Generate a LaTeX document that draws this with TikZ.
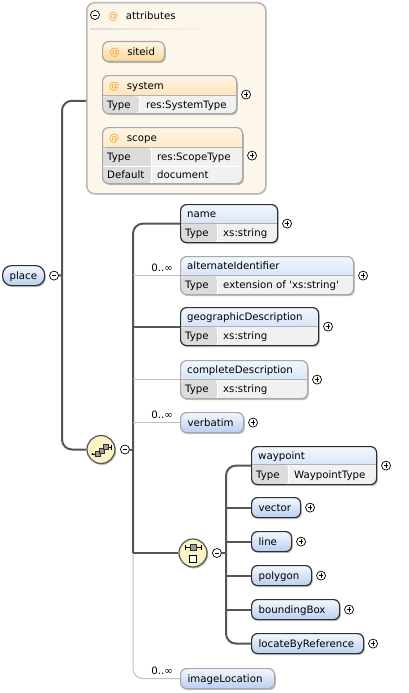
\documentclass[tikz,border=0pt]{standalone}
\usepackage{fontspec}
\setmainfont{DejaVu Sans}
\usetikzlibrary{positioning,shadows}
\definecolor{hdtop}{HTML}{F3F8FF}
\definecolor{hdbot}{HTML}{BACFF0}
\definecolor{attop}{HTML}{FFF5E4}
\definecolor{atbot}{HTML}{FCD697}
\definecolor{atsym}{HTML}{F0A030}
\definecolor{cellA}{HTML}{DCDCDC}
\definecolor{cellB}{HTML}{F1F1F1}
\definecolor{reqline}{HTML}{303030}
\definecolor{optline}{HTML}{A8A8A8}
\definecolor{grpfill}{HTML}{FCF6EB}
\definecolor{grpline}{HTML}{BAB7B2}
\definecolor{grpsep}{HTML}{E2DCD2}
\definecolor{connline}{HTML}{555555}
\definecolor{optconn}{HTML}{C0C0C0}
\definecolor{compfill}{HTML}{FBF5C6}
\definecolor{iconfill}{HTML}{9A9A9A}
\tikzset{box/.style={anchor=north west, line width=1.2pt, rounded corners=6pt, inner xsep=7pt, inner ysep=0pt,
    minimum height=20pt, text height=9.5pt, text depth=1.5pt, align=left,
    drop shadow={shadow xshift=1.2pt, shadow yshift=-1.5pt, opacity=0.25, fill=black}}}
\tikzset{elem/.style={box, draw=reqline, top color=hdtop, bottom color=hdbot}}
\tikzset{optelem/.style={elem, draw=optline}}
\tikzset{attrib/.style={box, draw=optline, top color=attop, bottom color=atbot}}
\tikzset{typed/.style n args={4}{box, fill=cellB, path picture={
    \shade[top color=#3, bottom color=#4] (path picture bounding box.north west) rectangle ([yshift=-#1]path picture bounding box.north east);
    \fill[cellA] ([yshift=-#1]path picture bounding box.north west) rectangle ([xshift=#2]path picture bounding box.south west);
    \draw[cellA!80!black, line width=0.6pt] ([yshift=-#1]path picture bounding box.north west) -- ([yshift=-#1]path picture bounding box.north east);
    \draw[white, line width=1pt] ([xshift=#2,yshift=-#1]path picture bounding box.north west) -- ([xshift=#2]path picture bounding box.south west);}}}
\tikzset{grp/.style={anchor=north west, draw=grpline, fill=grpfill, line width=1.5pt, rounded corners=8pt,
    drop shadow={shadow xshift=1pt, shadow yshift=-1pt, opacity=0.15, fill=black}}}
\tikzset{txt/.style={anchor=base west, inner sep=0pt}}
\tikzset{occ/.style={anchor=base east, inner sep=0pt}}
\tikzset{btn/.style={circle, draw=black, line width=0.7pt, fill=white, minimum size=9pt, inner sep=0pt}}
\tikzset{minusbtn/.style={btn, path picture={\draw[line width=0.7pt] ([xshift=-2.4pt]path picture bounding box.center) -- ([xshift=2.4pt]path picture bounding box.center);}}}
\tikzset{plusbtn/.style={btn, path picture={\draw[line width=0.7pt] ([xshift=-2.4pt]path picture bounding box.center) -- ([xshift=2.4pt]path picture bounding box.center) ([yshift=-2.4pt]path picture bounding box.center) -- ([yshift=2.4pt]path picture bounding box.center);}}}
\tikzset{comp/.style={circle, draw=connline, line width=1.2pt, fill=compfill, minimum size=28pt, inner sep=0pt,
    drop shadow={shadow xshift=1.2pt, shadow yshift=-1.5pt, opacity=0.25, fill=black}}}
\tikzset{icsq/.style={draw=reqline, fill=iconfill, line width=0.6pt}}
\tikzset{conn/.style={draw=connline, line width=2pt}}
\tikzset{optc/.style={draw=optconn, line width=1pt}}
\begin{document}
\begin{tikzpicture}[x=1pt, y=-1pt, font=\fontsize{10.2}{12}\selectfont]
\useasboundingbox (0,0) rectangle (408,693);

% attributes group
\node[grp, minimum width=179pt, minimum height=191pt] (attrs) at (86,2) {};
\node[minusbtn] (attM) at (95,15) {};
\node[txt] (attT) at (108,19.5) {\textcolor{atsym}{@}\hspace{7.5pt}attributes};
\shade[left color=grpsep, right color=grpfill] (90,28.5) rectangle (220,29.5);
\node[attrib, text width=48pt] (siteid) at (102,41) {\textcolor{atsym}{@}\hspace{7.5pt}siteid};
\node[typed={20pt}{37pt}{attop}{atbot}, draw=optline, minimum width=134pt, minimum height=38pt] (system) at (102,75) {};
\node[txt] (systemH) at ([xshift=7pt,yshift=-14pt]system.north west) {\textcolor{atsym}{@}\hspace{7.5pt}system};
\node[txt] (systemK) at ([xshift=5pt,yshift=-33pt]system.north west) {Type};
\node[txt] (systemV) at ([xshift=44pt,yshift=-33pt]system.north west) {res:SystemType};
\node[plusbtn, right=4pt of system] (systemP) {};
\node[typed={20pt}{49pt}{attop}{atbot}, draw=optline, minimum width=140pt, minimum height=56pt] (scope) at (102,127) {};
\draw[white, line width=1pt, shorten <=1pt, shorten >=1pt] ([yshift=18pt]scope.south west) -- ([yshift=18pt]scope.south east);
\node[txt] (scopeH) at ([xshift=7pt,yshift=-14pt]scope.north west) {\textcolor{atsym}{@}\hspace{7.5pt}scope};
\node[txt] (scopeK) at ([xshift=5pt,yshift=-33pt]scope.north west) {Type};
\node[txt] (scopeV) at ([xshift=55pt,yshift=-33pt]scope.north west) {res:ScopeType};
\node[txt] (scopeK2) at ([xshift=5pt,yshift=-51pt]scope.north west) {Default};
\node[txt] (scopeV2) at ([xshift=55pt,yshift=-51pt]scope.north west) {document};
\node[plusbtn, right=4pt of scope] (scopeP) {};

% root
\node[elem, rounded corners=9pt, text width=28pt] (place) at (2,265) {place};
\node[minusbtn, right=4pt of place] (placeM) {};
\coordinate (placeJ) at (62,275);

% sequence
\node[comp] (seq) at (101,449.5) {};
\node[minusbtn, right=4.5pt of seq] (seqM) {};
\coordinate (seqJ) at (133,449.5);
\begin{scope}[shift={(seq.center)}]
  \draw[line width=0.8pt] (-8.5,4.5) -- (-4,4.5) (7,-2.5) -- (10,-2.5) (10,-5) -- (10,0);
  \fill (-8.5,4.5) circle (1.1);
  \draw[icsq] (-5.5,1.5) rectangle (-0.5,6.5);
  \draw[icsq] (-2,-1.5) rectangle (3,3.5);
  \draw[icsq] (2,-5) rectangle (7,0);
\end{scope}

\node[typed={19pt}{37pt}{hdtop}{hdbot}, draw=reqline, minimum width=97pt, minimum height=38pt] (elName) at (180,204) {};
\node[txt] (elNameH) at ([xshift=7pt,yshift=-13.5pt]elName.north west) {name};
\node[txt] (elNameK) at ([xshift=5pt,yshift=-32.5pt]elName.north west) {Type};
\node[txt] (elNameV) at ([xshift=43pt,yshift=-32.5pt]elName.north west) {xs:string};
\node[plusbtn, right=4pt of elName] (elNameP) {};

\node[typed={19pt}{37pt}{hdtop}{hdbot}, draw=optline, minimum width=173pt, minimum height=38pt] (elAlt) at (180,256) {};
\node[txt] (elAltH) at ([xshift=7pt,yshift=-13.5pt]elAlt.north west) {alternateIdentifier};
\node[txt] (elAltK) at ([xshift=5pt,yshift=-32.5pt]elAlt.north west) {Type};
\node[txt] (elAltV) at ([xshift=43pt,yshift=-32.5pt]elAlt.north west) {extension of \textquotesingle xs:string\textquotesingle};
\node[plusbtn, right=4pt of elAlt] (elAltP) {};
\node[occ] (elAltO) at ([xshift=-7pt,yshift=4pt]elAlt.west) {0..∞};

\node[typed={19pt}{37pt}{hdtop}{hdbot}, draw=reqline, minimum width=138pt, minimum height=38pt] (elGeo) at (180,307) {};
\node[txt] (elGeoH) at ([xshift=7pt,yshift=-13.5pt]elGeo.north west) {geographicDescription};
\node[txt] (elGeoK) at ([xshift=5pt,yshift=-32.5pt]elGeo.north west) {Type};
\node[txt] (elGeoV) at ([xshift=43pt,yshift=-32.5pt]elGeo.north west) {xs:string};
\node[plusbtn, right=4pt of elGeo] (elGeoP) {};

\node[typed={19pt}{37pt}{hdtop}{hdbot}, draw=optline, minimum width=127pt, minimum height=38pt] (elCompl) at (180,360) {};
\node[txt] (elComplH) at ([xshift=7pt,yshift=-13.5pt]elCompl.north west) {completeDescription};
\node[txt] (elComplK) at ([xshift=5pt,yshift=-32.5pt]elCompl.north west) {Type};
\node[txt] (elComplV) at ([xshift=43pt,yshift=-32.5pt]elCompl.north west) {xs:string};
\node[plusbtn, right=4pt of elCompl] (elComplP) {};

\node[optelem, text width=49pt] (elVerb) at (180,412) {verbatim};
\node[plusbtn, right=4pt of elVerb] (elVerbP) {};
\node[occ] (elVerbO) at ([xshift=-7pt,yshift=4pt]elVerb.west) {0..∞};

% choice
\node[comp] (choice) at (193,553) {};
\node[minusbtn, right=4.5pt of choice] (choiceM) {};
\coordinate (choiceJ) at (226,553);
\begin{scope}[shift={(choice.center)}]
  \draw[line width=0.8pt] (-8,-6) -- (8,-6) (-8,-8.5) -- (-8,-3.5) (8,-8.5) -- (8,-3.5);
  \draw[icsq] (-3,-9) rectangle (3,-3);
  \draw[line width=0.8pt, fill=white] (-3.5,2.5) rectangle (3.5,9.5);
\end{scope}

\node[typed={18pt}{37pt}{hdtop}{hdbot}, draw=reqline, minimum width=125pt, minimum height=38pt] (elWay) at (251,446) {};
\node[txt] (elWayH) at ([xshift=7pt,yshift=-13pt]elWay.north west) {waypoint};
\node[txt] (elWayK) at ([xshift=5pt,yshift=-32pt]elWay.north west) {Type};
\node[txt] (elWayV) at ([xshift=43pt,yshift=-32pt]elWay.north west) {WaypointType};
\node[plusbtn, right=4pt of elWay] (elWayP) {};
\node[elem, text width=35pt] (elVec) at (251,497) {vector};
\node[plusbtn, right=4pt of elVec] (elVecP) {};
\node[elem, text width=26pt] (elLine) at (251,531) {line};
\node[plusbtn, right=4pt of elLine] (elLineP) {};
\node[elem, text width=46pt] (elPoly) at (251,565) {polygon};
\node[plusbtn, right=4pt of elPoly] (elPolyP) {};
\node[elem, text width=74pt] (elBox) at (251,599) {boundingBox};
\node[plusbtn, right=4pt of elBox] (elBoxP) {};
\node[elem, text width=98pt] (elLoc) at (251,633) {locateByReference};
\node[plusbtn, right=4pt of elLoc] (elLocP) {};

\node[optelem, text width=80pt] (elImg) at (180,668) {imageLocation};
\node[occ] (elImgO) at ([xshift=-7pt,yshift=4pt]elImg.west) {0..∞};

% connectors
\draw[conn, rounded corners=10pt] ([yshift=-2.5pt]attrs.west) -| (placeJ) |- (seq.west);
\draw[optc, rounded corners=10pt] (seqJ |- choice.west) |- (elImg.west);
\draw[conn, rounded corners=10pt] (elName.west) -| (seqJ |- choice.west);
\draw[conn, rounded corners=10pt] (elWay.west) -| (choiceJ) |- (elLoc.west);
\draw[optc]
  (seqJ |- elAlt.west) edge (elAlt.west)
  (seqJ |- elCompl.west) edge (elCompl.west)
  (seqJ |- elVerb.west) edge (elVerb.west);
\draw[conn]
  (placeM.east) edge (placeJ)
  (seqM.east) edge (seqJ)
  (seqJ |- elGeo.west) edge (elGeo.west)
  (seqJ |- choice.west) edge (choice.west)
  (choiceM.east) edge (choiceJ)
  (choiceJ |- elVec.west) edge (elVec.west)
  (choiceJ |- elLine.west) edge (elLine.west)
  (choiceJ |- elPoly.west) edge (elPoly.west)
  (choiceJ |- elBox.west) edge (elBox.west);
\end{tikzpicture}
\end{document}
